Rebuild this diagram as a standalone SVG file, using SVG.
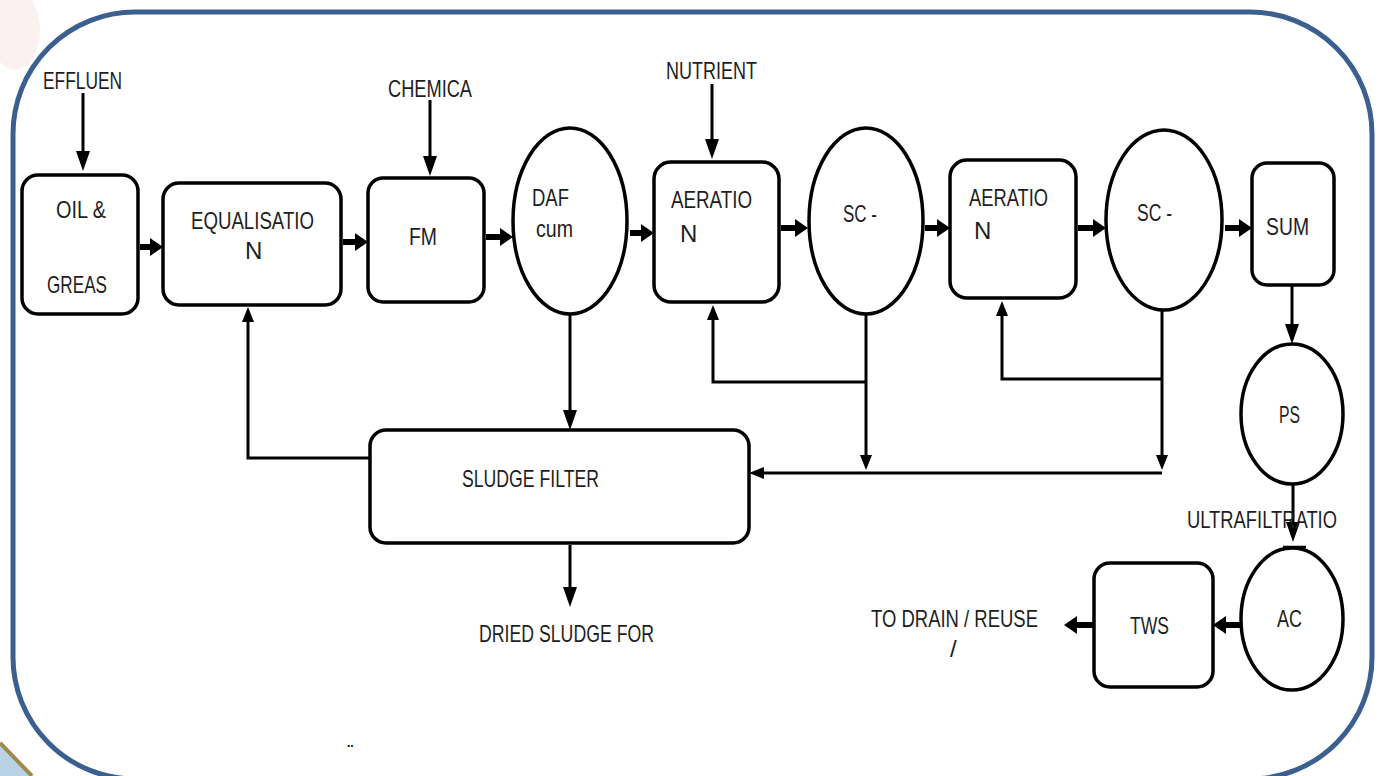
<svg xmlns="http://www.w3.org/2000/svg" width="1380" height="776" viewBox="0 0 1380 776">
<defs>
<style>
.box{fill:#fff;stroke:#000;stroke-width:3.5}
.t{font-family:"Liberation Sans",Arial,sans-serif;font-size:24px;fill:#1e1e1e}
.thin{fill:none;stroke:#000;stroke-width:3}
.thick{fill:none;stroke:#000;stroke-width:6}
</style>
<marker id="mt" markerUnits="userSpaceOnUse" markerWidth="13" markerHeight="18" refX="0" refY="9" orient="auto"><path d="M0,0 L13,9 L0,18 z" fill="#000"/></marker>
<marker id="mi" markerUnits="userSpaceOnUse" markerWidth="20" markerHeight="14" refX="0" refY="7" orient="auto"><path d="M0,0 L20,7 L0,14 z" fill="#000"/></marker>
<marker id="ms" markerUnits="userSpaceOnUse" markerWidth="15" markerHeight="12" refX="0" refY="6" orient="auto"><path d="M0,0 L15,6 L0,12 z" fill="#000"/></marker>
</defs>
<rect width="1380" height="776" fill="#fff"/>
<ellipse cx="15" cy="30" rx="25" ry="40" fill="#f3d6d8" opacity="0.35"/>
<polygon points="0,743 32,776 0,776" fill="#b9d2e6"/>
<line x1="0" y1="743" x2="32" y2="776" stroke="#9c8a4e" stroke-width="4"/>
<rect x="13" y="12" width="1359" height="767" rx="122" ry="122" fill="none" stroke="#3b6090" stroke-width="5"/>

<g id="connectors">
<line class="thin" x1="83" y1="93" x2="83" y2="151" marker-end="url(#mi)"/>
<line class="thin" x1="430" y1="100" x2="430" y2="156" marker-end="url(#mi)"/>
<line class="thin" x1="712" y1="84" x2="712" y2="139" marker-end="url(#mi)"/>
<line class="thick" x1="140" y1="247" x2="150" y2="247" marker-end="url(#mt)"/>
<line class="thick" x1="343" y1="242" x2="355" y2="242" marker-end="url(#mt)"/>
<line class="thick" x1="486" y1="237" x2="500" y2="237" marker-end="url(#mt)"/>
<line class="thick" x1="630" y1="233" x2="641" y2="233" marker-end="url(#mt)"/>
<line class="thick" x1="781" y1="228" x2="795" y2="228" marker-end="url(#mt)"/>
<line class="thick" x1="925" y1="228" x2="937" y2="228" marker-end="url(#mt)"/>
<line class="thick" x1="1078" y1="228" x2="1093" y2="228" marker-end="url(#mt)"/>
<line class="thick" x1="1225" y1="228" x2="1239" y2="228" marker-end="url(#mt)"/>
<line class="thin" x1="1292" y1="286" x2="1292" y2="324" marker-end="url(#mi)"/>
<line class="thin" x1="1293" y1="485" x2="1293" y2="522" marker-end="url(#mi)"/>
<line x1="1283" y1="547" x2="1306" y2="547" stroke="#000" stroke-width="2.5"/>
<line class="thick" x1="1241" y1="625" x2="1226" y2="625" marker-end="url(#mt)"/>
<line class="thick" x1="1093" y1="625" x2="1077" y2="625" marker-end="url(#mt)"/>
<line class="thin" x1="570" y1="315" x2="570" y2="410" marker-end="url(#mi)"/>
<polyline class="thin" points="370,458 248,458 248,322" marker-end="url(#ms)"/>
<line class="thin" x1="570" y1="545" x2="570" y2="587" marker-end="url(#mi)"/>
<line class="thin" x1="866" y1="315" x2="866" y2="455" marker-end="url(#ms)"/>
<polyline class="thin" points="866,382 713,382 713,320" marker-end="url(#ms)"/>
<line class="thin" x1="1162" y1="310" x2="1162" y2="455" marker-end="url(#ms)"/>
<polyline class="thin" points="1162,379 1002,379 1002,316" marker-end="url(#ms)"/>
<line class="thin" x1="1162" y1="473" x2="764" y2="473" marker-end="url(#ms)"/>
</g>

<g id="n-effluen"><text class="t" x="43" y="89" textLength="79" lengthAdjust="spacingAndGlyphs">EFFLUEN</text></g>
<g id="n-chemica"><text class="t" x="388" y="97" textLength="84" lengthAdjust="spacingAndGlyphs">CHEMICA</text></g>
<g id="n-nutrient"><text class="t" x="666" y="79" textLength="91" lengthAdjust="spacingAndGlyphs">NUTRIENT</text></g>

<g id="n-oil">
<rect class="box" x="22" y="175" width="116" height="139" rx="16"/>
<text class="t" x="56" y="218" textLength="50" lengthAdjust="spacingAndGlyphs">OIL &amp;</text>
<text class="t" x="47" y="293" textLength="60" lengthAdjust="spacingAndGlyphs">GREAS</text>
</g>
<g id="n-equalisation">
<rect class="box" x="163" y="183" width="178" height="122" rx="16"/>
<text class="t" x="191" y="229" textLength="123" lengthAdjust="spacingAndGlyphs">EQUALISATIO</text>
<text class="t" x="245" y="259">N</text>
</g>
<g id="n-fm">
<rect class="box" x="368" y="178" width="116" height="124" rx="15"/>
<text class="t" x="409" y="245" textLength="28" lengthAdjust="spacingAndGlyphs">FM</text>
</g>
<g id="n-daf">
<ellipse class="box" cx="570" cy="221" rx="57" ry="93"/>
<text class="t" x="532" y="206" textLength="37" lengthAdjust="spacingAndGlyphs">DAF</text>
<text class="t" x="536" y="237" textLength="37" lengthAdjust="spacingAndGlyphs">cum</text>
</g>
<g id="n-aeration1">
<rect class="box" x="654" y="162" width="125" height="140" rx="17"/>
<text class="t" x="671" y="208" textLength="81" lengthAdjust="spacingAndGlyphs">AERATIO</text>
<text class="t" x="680" y="242">N</text>
</g>
<g id="n-sc1">
<ellipse class="box" cx="866" cy="221" rx="57" ry="93"/>
<text class="t" x="843" y="222" textLength="34" lengthAdjust="spacingAndGlyphs">SC -</text>
</g>
<g id="n-aeration2">
<rect class="box" x="950" y="160" width="126" height="138" rx="17"/>
<text class="t" x="969" y="206" textLength="79" lengthAdjust="spacingAndGlyphs">AERATIO</text>
<text class="t" x="974" y="239">N</text>
</g>
<g id="n-sc2">
<ellipse class="box" cx="1164" cy="220" rx="58" ry="90"/>
<text class="t" x="1137" y="221" textLength="35" lengthAdjust="spacingAndGlyphs">SC -</text>
</g>
<g id="n-sum">
<rect class="box" x="1252" y="163" width="82" height="122" rx="15"/>
<text class="t" x="1266" y="235" textLength="43" lengthAdjust="spacingAndGlyphs">SUM</text>
</g>
<g id="n-ps">
<ellipse class="box" cx="1292" cy="414" rx="51" ry="70"/>
<text class="t" x="1279" y="423" textLength="21" lengthAdjust="spacingAndGlyphs">PS</text>
</g>
<g id="n-ultra"><text class="t" x="1187" y="528" textLength="150" lengthAdjust="spacingAndGlyphs">ULTRAFILTRATIO</text></g>
<g id="n-ac">
<ellipse class="box" cx="1292" cy="619" rx="51" ry="71"/>
<text class="t" x="1277" y="627" textLength="25" lengthAdjust="spacingAndGlyphs">AC</text>
</g>
<g id="n-tws">
<rect class="box" x="1094" y="563" width="119" height="124" rx="16"/>
<text class="t" x="1130" y="634" textLength="39" lengthAdjust="spacingAndGlyphs">TWS</text>
</g>
<g id="n-drain">
<text class="t" x="871" y="627" textLength="167" lengthAdjust="spacingAndGlyphs">TO DRAIN / REUSE</text>
<text class="t" x="950" y="657">/</text>
</g>
<g id="n-sludge">
<rect class="box" x="370" y="430" width="379" height="113" rx="16"/>
<text class="t" x="462" y="487" textLength="137" lengthAdjust="spacingAndGlyphs">SLUDGE FILTER</text>
</g>
<g id="n-dried"><text class="t" x="479" y="642" textLength="175" lengthAdjust="spacingAndGlyphs">DRIED SLUDGE FOR</text></g>
<g id="n-dots"><text x="347" y="747" font-family="Liberation Sans,Arial,sans-serif" font-size="12" font-weight="bold" fill="#000">..</text></g>
</svg>
